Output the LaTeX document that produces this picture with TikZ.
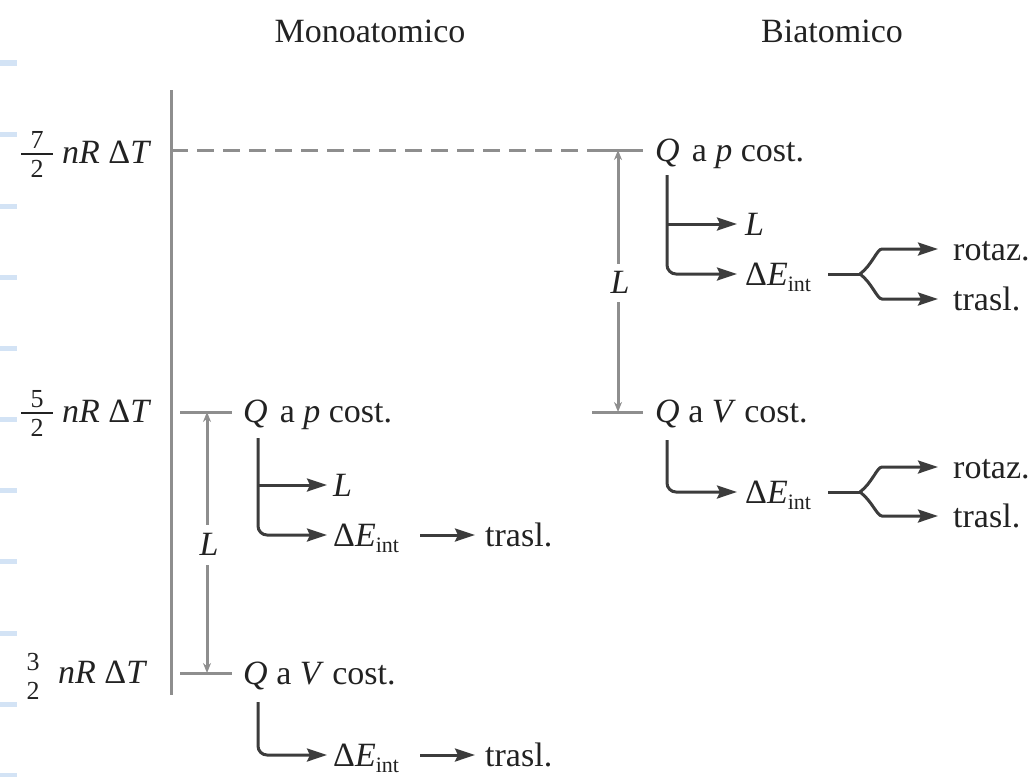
\documentclass[tikz,border=0pt]{standalone}
\usepackage{fontspec}
\setmainfont{Liberation Serif}
\usetikzlibrary{arrows.meta,calc}
\definecolor{axisgray}{HTML}{8E8E8E}
\definecolor{branchgray}{HTML}{3C3C3C}
\definecolor{tickblue}{HTML}{D3E3F5}
\definecolor{txtcol}{HTML}{222222}
\newcommand\dEint{Δ\textit{E}\raisebox{-6pt}{\fontsize{22}{22}\selectfont int}}
\newcommand\nRdT{\textit{nR} Δ\textit{T}}
\tikzset{
  lbl/.style={inner sep=0pt, anchor=west, text height=22pt, text depth=0pt, font=\fontsize{34}{40}\selectfont, text=txtcol},
  head/.style={inner sep=0pt, anchor=base, font=\fontsize{34}{40}\selectfont, text=txtcol},
  fracnum/.style={inner sep=0pt, align=center, font=\fontsize{26}{29}\selectfont, text=txtcol},
  fracbar/.style={draw=txtcol, line width=1.8pt},
  axisline/.style={draw=axisgray, line width=3pt},
  dashline/.style={draw=axisgray, line width=3pt, dash pattern=on 17pt off 9pt},
  dimarrow/.style={draw=axisgray, line width=3pt, -{Stealth[length=10pt,width=8pt]}},
  dimlbl/.style={inner sep=0pt, text height=20pt, text depth=0pt, font=\fontsize{34}{40}\selectfont, text=txtcol},
  branch/.style={draw=branchgray, line width=3pt, rounded corners=9pt, -{Stealth[length=20pt,width=13pt,inset=3pt]}},
  plainbranch/.style={draw=branchgray, line width=3pt}
}
\begin{document}
\begin{tikzpicture}[x=1pt,y=-1pt]
\useasboundingbox (0,0) rectangle (1035,776);
% light blue ticks at left edge
\foreach \yy in {63,134,206,277,348,419,490,561,633,704,775}
  \fill[tickblue] (0,\yy-2.5) rectangle (17,\yy+2.5);

% headings
\node[head] (hmono) at (370,43) {Monoatomico};
\node[head] (hbi) at (832,43) {Biatomico};

% left labels
\node[fracnum] (f7) at (37,154) {7\\2};
\draw[fracbar] ($(f7.center)+(-16,0)$) -- ($(f7.center)+(16,0)$);
\node[lbl] (l7) at (62,152) {\nRdT};
\node[fracnum] (f5) at (37,413) {5\\2};
\draw[fracbar] ($(f5.center)+(-16,0)$) -- ($(f5.center)+(16,0)$);
\node[lbl] (l5) at (62,411) {\nRdT};
\node[fracnum] (f3) at (33,676) {3\\2};
\node[lbl] (l3) at (58,672) {\nRdT};

% axis and dashed level
\coordinate (axtop) at (171,90);
\coordinate (axbot) at (171,695);
\draw[axisline] (axtop) -- (axbot);
\coordinate (dstart) at (171,150);
\coordinate (btopl) at (593,150);
\coordinate (btopr) at (643,150);
\draw[dashline] (dstart) -- (btopl);
\draw[axisline] (btopl) -- (btopr);

% ---------- Biatomico ----------
\coordinate (bbotl) at (592,412);
\coordinate (bbotr) at (643,412);
\draw[axisline] (bbotl) -- (bbotr);
\coordinate (bdtop) at (618,150);
\coordinate (bdbot) at (618,412);
\node[dimlbl] (LdB) at (620,283) {\textit{L}};
\draw[dimarrow, shorten <=9pt] (bdtop |- LdB.north) -- (bdtop);
\draw[dimarrow, shorten <=9pt] (bdbot |- LdB.south) -- (bdbot);

\node[lbl] (QpB) at (655,150) {\textit{Q}\hspace{12pt}a \textit{p} cost.};
\node[lbl] (LB) at (745,224) {\textit{L}};
\node[lbl] (EB1) at (745,274) {\dEint};
\coordinate (qb1) at ($(QpB.west)+(12,25)$);
\draw[branch, shorten >=8pt] (qb1) |- (EB1.west);
\draw[branch, rounded corners=0pt, shorten >=8pt] (qb1 |- LB.west) -- (LB.west);
\node[lbl] (RB1) at (953,249) {rotaz.};
\node[lbl] (TB1) at (953,299) {trasl.};
\coordinate (s1) at ($(EB1.west)+(115,0)$);
\draw[plainbranch] ($(EB1.west)+(83,0)$) -- (s1);
\draw[branch, shorten >=15pt] (s1) .. controls +(12,-9) and +(-14,0) .. ($(RB1.west)+(-62,0)$) -- (RB1.west);
\draw[branch, shorten >=15pt] (s1) .. controls +(12,9) and +(-14,0) .. ($(TB1.west)+(-62,0)$) -- (TB1.west);

\node[lbl] (QvB) at (655,411) {\textit{Q} a \textit{V} cost.};
\node[lbl] (EB2) at (745,492) {\dEint};
\coordinate (qb2) at ($(QvB.west)+(12,29)$);
\draw[branch, shorten >=8pt] (qb2) |- (EB2.west);
\node[lbl] (RB2) at (953,467) {rotaz.};
\node[lbl] (TB2) at (953,516) {trasl.};
\coordinate (s2) at ($(EB2.west)+(115,0)$);
\draw[plainbranch] ($(EB2.west)+(83,0)$) -- (s2);
\draw[branch, shorten >=15pt] (s2) .. controls +(12,-9) and +(-14,0) .. ($(RB2.west)+(-62,0)$) -- (RB2.west);
\draw[branch, shorten >=15pt] (s2) .. controls +(12,9) and +(-14,0) .. ($(TB2.west)+(-62,0)$) -- (TB2.west);

% ---------- Monoatomico ----------
\coordinate (mtopl) at (180,412);
\coordinate (mtopr) at (232,412);
\coordinate (mbotl) at (180,673);
\coordinate (mbotr) at (232,673);
\draw[axisline] (mtopl) -- (mtopr);
\draw[axisline] (mbotl) -- (mbotr);
\coordinate (mdtop) at (207,412);
\coordinate (mdbot) at (207,673);
\node[dimlbl] (LdM) at (209,545) {\textit{L}};
\draw[dimarrow, shorten <=10pt] (mdtop |- LdM.north) -- (mdtop);
\draw[dimarrow, shorten <=10pt] (mdbot |- LdM.south) -- (mdbot);

\node[lbl] (QpM) at (243,411) {\textit{Q}\hspace{12pt}a \textit{p} cost.};
\node[lbl] (LM) at (333,485) {\textit{L}};
\node[lbl] (EM1) at (333,535) {\dEint};
\node[lbl] (TM1) at (485,535) {trasl.};
\coordinate (qm1) at ($(QpM.west)+(15,27)$);
\draw[branch, shorten >=6pt] (qm1) |- (EM1.west);
\draw[branch, rounded corners=0pt, shorten >=6pt] (qm1 |- LM.west) -- (LM.west);
\draw[branch, shorten >=10pt] ($(EM1.west)+(87,0)$) -- (TM1.west);

\node[lbl] (QvM) at (243,673) {\textit{Q} a \textit{V} cost.};
\node[lbl] (EM2) at (333,755) {\dEint};
\node[lbl] (TM2) at (485,755) {trasl.};
\coordinate (qm2) at ($(QvM.west)+(15,29)$);
\draw[branch, shorten >=6pt] (qm2) |- (EM2.west);
\draw[branch, shorten >=10pt] ($(EM2.west)+(87,0)$) -- (TM2.west);
\end{tikzpicture}
\end{document}
